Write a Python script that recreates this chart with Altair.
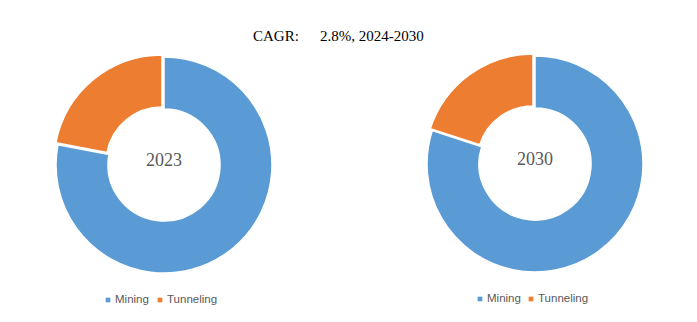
import altair as alt
import pandas as pd

segments = ["Mining", "Tunneling"]
share_2023 = [78, 22]
share_2030 = [80, 20]
years = ["2023", "2030"]
colors = ["#5B9BD5", "#ED7D31"]
title_left = "CAGR:"
title_right = "2.8%, 2024-2030"

rows = []
for y, vals in zip(years, [share_2023, share_2030]):
    for i, (s, v) in enumerate(zip(segments, vals)):
        rows.append({"year": y, "segment": s, "value": v, "order": i})
df = pd.DataFrame(rows)

color = alt.Color("segment:N", scale=alt.Scale(domain=segments, range=colors), legend=None)
theta_scale = alt.Scale(domain=[0, 100])

centers = {"2023": (164, 165), "2030": (535, 164)}


def donut(year):
    cx, cy = centers[year]
    base = (
        alt.Chart(df)
        .transform_filter(alt.datum.year == year)
        .transform_stack(stack="value", groupby=["year"], as_=["v0", "v1"],
                         sort=[alt.SortField("order", order="ascending")])
    )
    blue = base.transform_filter(alt.datum.segment == segments[0]).mark_arc(
        innerRadius=56, outerRadius=108, stroke="white", strokeWidth=1.5
    ).encode(
        theta=alt.Theta("v0:Q", scale=theta_scale),
        theta2="v1:Q",
        color=color,
        x=alt.value(cx), y=alt.value(cy),
    )
    orange = base.transform_filter(alt.datum.segment == segments[1]).mark_arc(
        innerRadius=56, outerRadius=108, stroke="white", strokeWidth=1.5,
        xOffset=-2, yOffset=-2
    ).encode(
        theta=alt.Theta("v0:Q", scale=theta_scale),
        theta2="v1:Q",
        color=color,
        x=alt.value(cx), y=alt.value(cy),
    )
    label = alt.Chart(pd.DataFrame({"t": [year]})).mark_text(
        font="Liberation Serif", fontSize=18, color="#595959", align="center", baseline="middle"
    ).encode(text="t:N", x=alt.value(cx), y=alt.value(cy - 4))
    return [blue, orange, label]


def legend(x0, y0, gap):
    ld = pd.DataFrame({"segment": segments})
    layers = []
    xs = [x0, x0 + gap]
    for s, xx in zip(segments, xs):
        sq = alt.Chart(ld).transform_filter(alt.datum.segment == s).mark_square(size=22, opacity=1).encode(
            x=alt.value(xx), y=alt.value(y0), color=color
        )
        tx = alt.Chart(ld).transform_filter(alt.datum.segment == s).mark_text(
            font="Liberation Sans", fontSize=11.5, color="#595959", align="left", baseline="middle"
        ).encode(x=alt.value(xx + 7), y=alt.value(y0), text="segment:N")
        layers += [sq, tx]
    return layers


t1 = alt.Chart(pd.DataFrame({"t": [title_left]})).mark_text(
    font="Liberation Serif", fontSize=15, color="black", align="left", baseline="middle"
).encode(text="t:N", x=alt.value(253), y=alt.value(36))
t2 = alt.Chart(pd.DataFrame({"t": [title_right]})).mark_text(
    font="Liberation Serif", fontSize=15, color="black", align="left", baseline="middle"
).encode(text="t:N", x=alt.value(320), y=alt.value(36))

layers = donut("2023") + donut("2030") + legend(108, 300, 52) + legend(480, 299, 51) + [t1, t2]

chart = alt.layer(*layers).properties(
    width=697, height=322, padding=0, autosize=alt.AutoSizeParams(type="none"), background="white"
).configure_view(stroke=None)

chart.save("out.html", embed_options={"renderer": "svg", "actions": False})
